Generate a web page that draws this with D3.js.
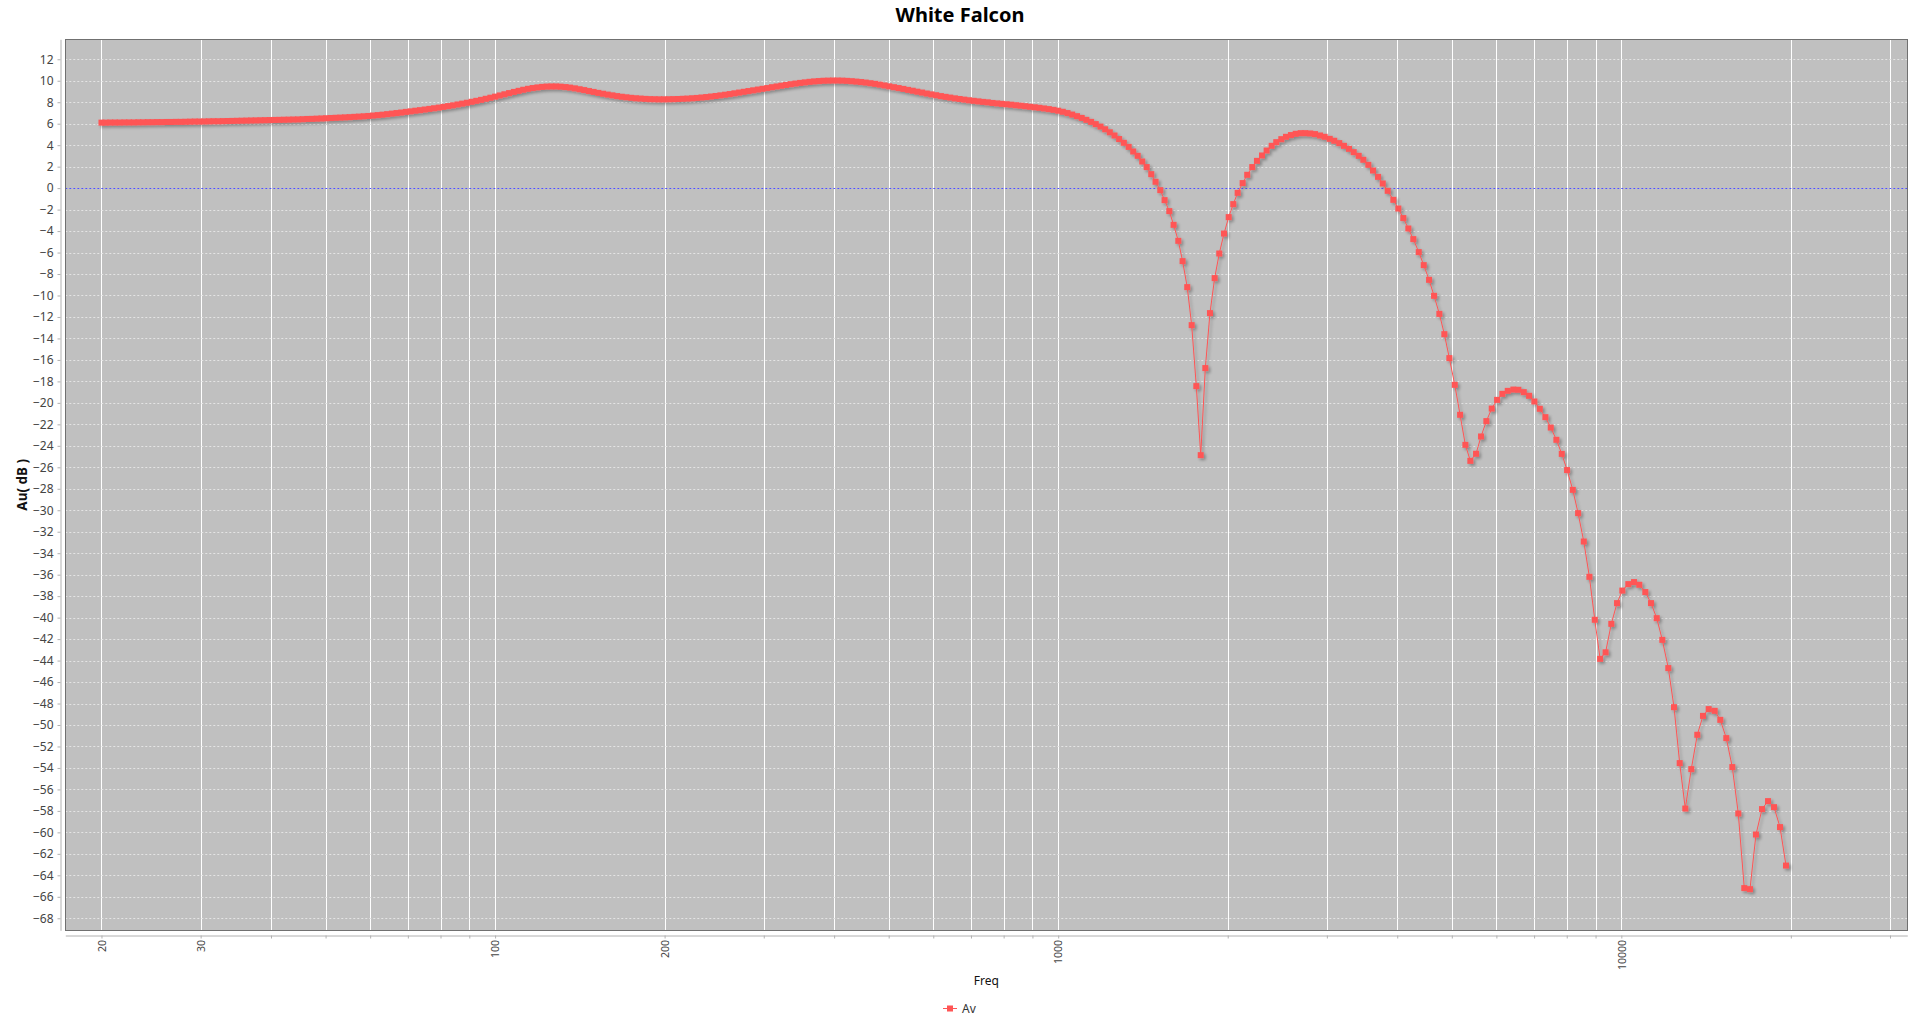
<!DOCTYPE html>
<html>
<head>
<meta charset="utf-8">
<script src="https://cdn.jsdelivr.net/npm/d3@7"></script>
<style>
  body { margin: 0; background: #fff; }
  svg { display: block; font-family: "Noto Sans", sans-serif; }
</style>
</head>
<body>
<svg id="chart" width="1920" height="1021"></svg>
<script>
// dense part of the sweep (20 Hz .. 1.3 kHz), drawn as an overlapping band of markers
const bandFreqs = [
  20.00, 20.34, 20.73, 21.14, 21.54, 21.96, 22.39, 22.82, 23.26, 23.71, 24.17, 24.64,
  25.12, 25.61, 26.10, 26.61, 27.12, 27.65, 28.18, 28.73, 29.29, 29.85, 30.43, 31.02,
  31.62, 32.24, 32.86, 33.50, 34.15, 34.81, 35.48, 36.17, 36.87, 37.58, 38.31, 39.05,
  39.81, 40.58, 41.37, 42.17, 42.99, 43.82, 44.67, 45.53, 46.42, 47.32, 48.23, 49.17,
  50.12, 51.09, 52.08, 53.09, 54.12, 55.17, 56.23, 57.32, 58.43, 59.57, 60.72, 61.90,
  63.10, 64.32, 65.56, 66.83, 68.13, 69.45, 70.79, 72.17, 73.56, 74.99, 76.44, 77.92,
  79.43, 80.97, 82.54, 84.14, 85.77, 87.43, 89.13, 90.85, 92.61, 94.41, 96.24, 98.10,
  100.0, 101.9, 103.9, 105.9, 108.0, 110.1, 112.2, 114.4, 116.6, 118.9, 121.2, 123.5,
  125.9, 128.3, 130.8, 133.4, 135.9, 138.6, 141.3, 144.0, 146.8, 149.6, 152.5, 155.5,
  158.5, 161.6, 164.7, 167.9, 171.1, 174.5, 177.8, 181.3, 184.8, 188.4, 192.0, 195.7,
  199.5, 203.4, 207.3, 211.3, 215.4, 219.6, 223.9, 228.2, 232.6, 237.1, 241.7, 246.4,
  251.2, 256.1, 261.0, 266.1, 271.2, 276.5, 281.8, 287.3, 292.9, 298.5, 304.3, 310.2,
  316.2, 322.4, 328.6, 335.0, 341.5, 348.1, 354.8, 361.7, 368.7, 375.8, 383.1, 390.5,
  398.1, 405.8, 413.7, 421.7, 429.9, 438.2, 446.7, 455.3, 464.2, 473.2, 482.3, 491.7,
  501.2, 510.9, 520.8, 530.9, 541.2, 551.7, 562.3, 573.2, 584.3, 595.7, 607.2, 619.0,
  631.0, 643.2, 655.6, 668.3, 681.3, 694.5, 707.9, 721.7, 735.6, 749.9, 764.4, 779.2,
  794.3, 809.7, 825.4, 841.4, 857.7, 874.3, 891.3, 908.5, 926.1, 944.1, 962.4, 981.0,
  1000, 1019, 1039, 1059, 1080, 1101, 1122, 1144, 1166, 1189, 1212, 1235, 1259, 1283, 1308
];
const bandGains = [
  6.10, 6.10, 6.11, 6.11, 6.11, 6.12, 6.12, 6.12, 6.13, 6.13,
  6.14, 6.14, 6.15, 6.15, 6.16, 6.16, 6.17, 6.17, 6.18, 6.19,
  6.20, 6.20, 6.21, 6.22, 6.23, 6.23, 6.24, 6.25, 6.26, 6.27,
  6.28, 6.29, 6.30, 6.31, 6.32, 6.33, 6.34, 6.35, 6.36, 6.37,
  6.38, 6.39, 6.40, 6.42, 6.44, 6.45, 6.47, 6.49, 6.51, 6.53,
  6.55, 6.57, 6.59, 6.61, 6.64, 6.66, 6.69, 6.72, 6.76, 6.80,
  6.84, 6.89, 6.94, 6.99, 7.04, 7.10, 7.15, 7.21, 7.26, 7.32,
  7.38, 7.44, 7.50, 7.57, 7.64, 7.71, 7.79, 7.87, 7.95, 8.04,
  8.13, 8.22, 8.32, 8.42, 8.52, 8.63, 8.74, 8.85, 8.96, 9.06,
  9.16, 9.25, 9.32, 9.38, 9.43, 9.46, 9.47, 9.47, 9.45, 9.41,
  9.36, 9.29, 9.21, 9.13, 9.04, 8.96, 8.87, 8.79, 8.71, 8.64,
  8.57, 8.51, 8.46, 8.41, 8.37, 8.34, 8.31, 8.29, 8.28, 8.27,
  8.27, 8.28, 8.29, 8.30, 8.32, 8.34, 8.37, 8.40, 8.44, 8.48,
  8.53, 8.58, 8.64, 8.70, 8.76, 8.83, 8.90, 8.97, 9.04, 9.11,
  9.18, 9.25, 9.32, 9.40, 9.47, 9.54, 9.61, 9.68, 9.74, 9.80,
  9.85, 9.90, 9.94, 9.97, 10.00, 10.01, 10.02, 10.02, 10.01, 9.99,
  9.96, 9.92, 9.88, 9.83, 9.77, 9.71, 9.64, 9.56, 9.48, 9.40,
  9.32, 9.24, 9.15, 9.07, 8.98, 8.90, 8.81, 8.73, 8.65, 8.57,
  8.50, 8.43, 8.36, 8.30, 8.24, 8.18, 8.13, 8.08, 8.03, 7.99,
  7.93, 7.89, 7.85, 7.81, 7.77, 7.72, 7.68, 7.63, 7.58, 7.53,
  7.48, 7.42, 7.36, 7.29, 7.21, 7.11, 6.99, 6.85, 6.70, 6.54,
  6.36, 6.17, 5.96, 5.73, 5.48, 5.20, 4.90, 4.57, 4.22
];

const tailFreqs = [
  1334, 1359, 1384, 1410, 1436, 1463, 1489, 1518, 1545, 1575, 1603, 1634, 1663, 1695, 1726,
  1759, 1791, 1825, 1860, 1896, 1932, 1970, 2008, 2046, 2083, 2126, 2166, 2211, 2254, 2301,
  2345, 2394, 2439, 2490, 2538, 2590, 2641, 2695, 2746, 2803, 2858, 2917, 2973, 3035, 3092,
  3156, 3217, 3284, 3348, 3417, 3482, 3554, 3623, 3698, 3770, 3847, 3937, 4018, 4101, 4186,
  4272, 4368, 4458, 4556, 4650, 4752, 4850, 4950, 5061, 5172, 5285, 5394, 5521, 5635, 5759,
  5887, 6017, 6148, 6285, 6431, 6564, 6711, 6858, 7008, 7165, 7331, 7494, 7668, 7839, 8011,
  8200, 8380, 8577, 8776, 8972, 9169, 9377, 9599, 9826, 10041, 10290, 10533, 10763, 11031, 11291,
  11557, 11825, 12118, 12404, 12696, 12990, 13312, 13643, 13965, 14294, 14649, 14988, 15361, 15742, 16133,
  16533, 16923, 17343, 17778, 18219, 18671, 19135, 19609
];
const tailGains = [
  3.84, 3.41, 3.01, 2.48, 1.96, 1.30, 0.59, -0.19, -1.12, -2.14, -3.42, -4.91, -6.80, -9.22, -12.76,
  -18.44, -24.87, -16.76, -11.64, -8.38, -6.09, -4.23, -2.70, -1.49, -0.44, 0.47, 1.24, 1.96, 2.54, 3.04,
  3.50, 3.94, 4.28, 4.56, 4.78, 4.94, 5.06, 5.12, 5.12, 5.09, 5.03, 4.90, 4.78, 4.59, 4.41,
  4.19, 3.94, 3.66, 3.35, 3.01, 2.64, 2.17, 1.64, 1.05, 0.43, -0.25, -1.09, -1.90, -2.79, -3.76,
  -4.75, -5.96, -7.17, -8.54, -10.03, -11.71, -13.60, -15.83, -18.32, -21.11, -23.91, -25.40, -24.74, -23.13, -21.70,
  -20.53, -19.72, -19.16, -18.88, -18.76, -18.78, -19.00, -19.34, -19.87, -20.55, -21.33, -22.30, -23.44, -24.75, -26.26,
  -28.10, -30.27, -32.91, -36.20, -40.20, -43.84, -43.23, -40.58, -38.65, -37.48, -36.88, -36.69, -36.94, -37.62, -38.65,
  -40.05, -42.07, -44.70, -48.34, -53.55, -57.78, -54.11, -50.91, -49.15, -48.52, -48.68, -49.52, -51.22, -53.92, -58.24,
  -65.19, -65.29, -60.20, -57.83, -57.09, -57.65, -59.51, -63.09
];

const yTicks = [12, 10, 8, 6, 4, 2, 0, -2, -4, -6, -8, -10, -12, -14, -16, -18, -20, -22, -24, -26,
  -28, -30, -32, -34, -36, -38, -40, -42, -44, -46, -48, -50, -52, -54, -56, -58, -60, -62, -64, -66, -68];
const gridFreqs = [20, 30, 40, 50, 60, 70, 80, 90, 100, 200, 300, 400, 500, 600, 700, 800, 900,
  1000, 2000, 3000, 4000, 5000, 6000, 7000, 8000, 9000, 10000, 20000, 30000];
const labelFreqs = [20, 30, 100, 200, 1000, 10000];

const title = "White Falcon";
const xTitle = "Freq";
const yTitle = "Au( dB )";
const seriesName = "Av";

const RED = "#ff5555";

const data = bandFreqs.map((f, i) => ({ f, db: bandGains[i] }))
  .concat(tailFreqs.map((f, i) => ({ f, db: tailGains[i] })));

const svg = d3.select("#chart");
const plot = { left: 65.3, right: 1907.3, top: 39.3, bottom: 930.3 };

const x = d3.scaleLog().domain([17.25, 32200]).range([plot.left, plot.right]);
const y = d3.scaleLinear().domain([-69.12, 13.86]).range([plot.bottom, plot.top]);
const snap = v => Math.round(v) + 0.5;

const defs = svg.append("defs");
defs.append("clipPath").attr("id", "plotClip")
  .append("rect")
  .attr("x", 65).attr("y", 39)
  .attr("width", 1843).attr("height", 892);

const shadow = defs.append("filter").attr("id", "shadow")
  .attr("filterUnits", "userSpaceOnUse")
  .attr("x", 0).attr("y", 0).attr("width", 1920).attr("height", 1021);
shadow.append("feGaussianBlur").attr("in", "SourceAlpha").attr("stdDeviation", 1.4).attr("result", "blur");
shadow.append("feOffset").attr("in", "blur").attr("dx", 2).attr("dy", 2).attr("result", "off");
shadow.append("feComponentTransfer").attr("in", "off").attr("result", "soft")
  .append("feFuncA").attr("type", "linear").attr("slope", 0.3);
const merge = shadow.append("feMerge");
merge.append("feMergeNode").attr("in", "soft");
merge.append("feMergeNode").attr("in", "SourceGraphic");

// title
svg.append("text")
  .attr("x", 960).attr("y", 22)
  .attr("text-anchor", "middle")
  .attr("font-size", 20).attr("font-weight", "bold")
  .attr("fill", "#000")
  .text(title);

// plot background
svg.append("rect")
  .attr("x", 65).attr("y", 39)
  .attr("width", 1843).attr("height", 892)
  .attr("fill", "#c0c0c0");

const grid = svg.append("g").attr("clip-path", "url(#plotClip)");

grid.selectAll(".vgrid").data(gridFreqs).join("line")
  .attr("x1", d => snap(x(d))).attr("x2", d => snap(x(d)))
  .attr("y1", plot.top).attr("y2", plot.bottom)
  .attr("stroke", "#ffffff").attr("stroke-width", 1);

grid.selectAll(".hgrid").data(yTicks).join("line")
  .attr("x1", plot.left).attr("x2", plot.right)
  .attr("y1", d => snap(y(d))).attr("y2", d => snap(y(d)))
  .attr("stroke", "#e4e4e4").attr("stroke-width", 1)
  .attr("stroke-dasharray", "2,2");

// zero baseline
grid.append("line")
  .attr("x1", plot.left).attr("x2", plot.right)
  .attr("y1", snap(y(0))).attr("y2", snap(y(0)))
  .attr("stroke", "#5050ff").attr("stroke-width", 1)
  .attr("stroke-dasharray", "2,2");

// series
const series = svg.append("g")
  .attr("clip-path", "url(#plotClip)")
  .append("g")
  .attr("filter", "url(#shadow)");

series.append("path")
  .datum(data)
  .attr("fill", "none")
  .attr("stroke", RED)
  .attr("stroke-width", 1)
  .attr("d", d3.line().x(d => x(d.f)).y(d => y(d.db)));

series.selectAll("rect").data(data).join("rect")
  .attr("x", d => x(d.f) - 3)
  .attr("y", d => y(d.db) - 3)
  .attr("width", 6).attr("height", 6)
  .attr("fill", RED);

// plot outline
svg.append("rect")
  .attr("x", 65.5).attr("y", 39.5)
  .attr("width", 1842).attr("height", 891)
  .attr("fill", "none")
  .attr("stroke", "#707070").attr("stroke-width", 1);

// y axis
const yAxis = svg.append("g")
  .attr("transform", "translate(60.5,0)")
  .call(d3.axisLeft(y).tickValues(yTicks).tickSize(3).tickSizeOuter(0).tickPadding(4));
yAxis.select(".domain").attr("stroke", "#b0b0b0");
yAxis.selectAll(".tick line").attr("stroke", "#b0b0b0");
yAxis.selectAll(".tick text")
  .attr("font-size", 12)
  .attr("font-family", "Noto Sans, sans-serif")
  .attr("fill", "#444");

// x axis
const xAxis = svg.append("g")
  .attr("transform", "translate(0,935.5)")
  .call(d3.axisBottom(x).tickValues(gridFreqs).tickSize(3).tickSizeOuter(0)
    .tickFormat(d => labelFreqs.includes(d) ? String(d) : ""));
xAxis.select(".domain").attr("stroke", "#b0b0b0");
xAxis.selectAll(".tick line").attr("stroke", "#b0b0b0");
xAxis.selectAll(".tick text")
  .attr("transform", "rotate(-90)")
  .attr("x", -4.5).attr("y", 0).attr("dy", "0.35em")
  .attr("text-anchor", "end")
  .attr("font-size", 10.5)
  .attr("font-family", "Noto Sans, sans-serif")
  .attr("fill", "#444");

// axis titles
svg.append("text")
  .attr("x", 986.3).attr("y", 985)
  .attr("text-anchor", "middle")
  .attr("font-size", 12)
  .attr("fill", "#111")
  .text(xTitle);

svg.append("text")
  .attr("transform", "translate(27,484.8) rotate(-90)")
  .attr("text-anchor", "middle")
  .attr("font-size", 13.5).attr("font-weight", "bold")
  .attr("fill", "#111")
  .text(yTitle);

// legend
const legend = svg.append("g").attr("transform", "translate(950,1008.5)");
legend.append("line")
  .attr("x1", -7).attr("x2", 7)
  .attr("stroke", RED).attr("stroke-width", 1);
legend.append("rect")
  .attr("x", -3).attr("y", -3).attr("width", 6).attr("height", 6)
  .attr("fill", RED);
legend.append("text")
  .attr("x", 12).attr("dy", "0.35em")
  .attr("font-size", 12)
  .attr("fill", "#333")
  .text(seriesName);
</script>
</body>
</html>
